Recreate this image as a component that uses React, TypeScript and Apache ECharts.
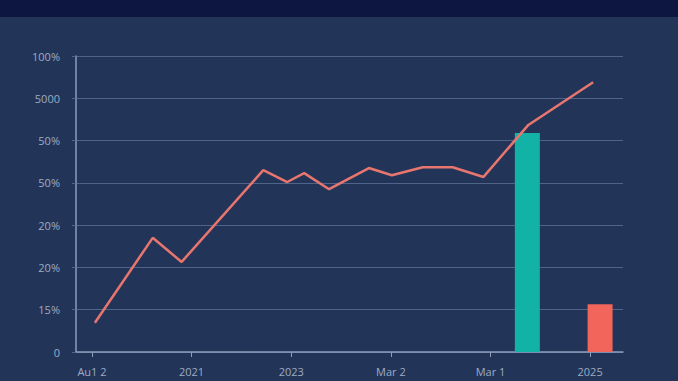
import React, { useEffect, useRef } from "react";
import * as echarts from "echarts";

const yTickLabels = ["0", "15%", "20%", "20%", "50%", "50%", "5000", "100%"];
const xTickLabels = ["Au1 2", "2021", "2023", "Mar 2", "Mar 1", "2025"];
const xTickValues = [0, 1, 2, 3, 4, 5];

const lineX = [0.03, 0.61, 0.9, 1.72, 1.96, 2.13, 2.38, 2.78, 3.01, 3.32, 3.62, 3.93, 4.38, 5.03];
const lineY = [0.69, 2.7, 2.13, 4.3, 4.02, 4.23, 3.85, 4.35, 4.18, 4.37, 4.37, 4.14, 5.37, 6.38];

const barX = [4.37, 5.1];
const barY = [5.18, 1.13];

const BAR_COLORS = ["#12b3a6", "#f2655a"];

export default function App() {
  const ref = useRef<HTMLDivElement>(null);
  useEffect(() => {
    if (!ref.current) return;
    const chart = echarts.init(ref.current, null, { renderer: "svg" });
    const axisColor = "#8d9dbb";
    const gridColor = "#4f6488";
    const labelColor = "#9eabc3";
    chart.setOption({
      animation: false,
      backgroundColor: "#223558",
      textStyle: { fontFamily: "Open Sans, Noto Sans, sans-serif" },
      graphic: [
        {
          type: "rect",
          left: 0,
          top: 0,
          shape: { width: 678, height: 17 },
          style: { fill: "#0c1640" },
          z: 10,
        },
      ],
      grid: { left: 76, right: 55, top: 56, bottom: 29, containLabel: false },
      xAxis: {
        type: "value",
        min: -0.16,
        max: 5.33,
        splitLine: { show: false },
        axisLine: { show: true, onZero: false, lineStyle: { color: axisColor, width: 1.5 } },
        axisTick: {
          show: true,
          length: 5,
          customValues: xTickValues,
          lineStyle: { color: axisColor },
        },
        axisLabel: {
          customValues: xTickValues,
          color: labelColor,
          fontSize: 11,
          margin: 14,
          formatter: (v: number) => xTickLabels[Math.round(v)] ?? "",
        },
      },
      yAxis: {
        type: "value",
        min: 0,
        max: 7,
        interval: 1,
        axisLine: { show: true, onZero: false, lineStyle: { color: axisColor, width: 1.5 } },
        axisTick: { show: true, length: 4, lineStyle: { color: gridColor } },
        splitLine: { show: true, lineStyle: { color: gridColor, width: 1 } },
        axisLabel: {
          color: labelColor,
          fontSize: 11,
          margin: 16,
          formatter: (v: number) => yTickLabels[Math.round(v)] ?? "",
        },
      },
      series: [
        {
          type: "bar",
          barWidth: 25,
          data: barX.map((x, i) => ({
            value: [x, barY[i]],
            itemStyle: { color: BAR_COLORS[i] },
          })),
          z: 2,
        },
        {
          type: "line",
          data: lineX.map((x, i) => [x, lineY[i]]),
          symbol: "none",
          lineStyle: { color: "#e8766f", width: 2.5 },
          z: 3,
        },
      ],
    });
    return () => chart.dispose();
  }, []);
  return (
    <div
      ref={ref}
      style={{ position: "fixed", left: 0, top: 0, width: 678, height: 381 }}
    />
  );
}
